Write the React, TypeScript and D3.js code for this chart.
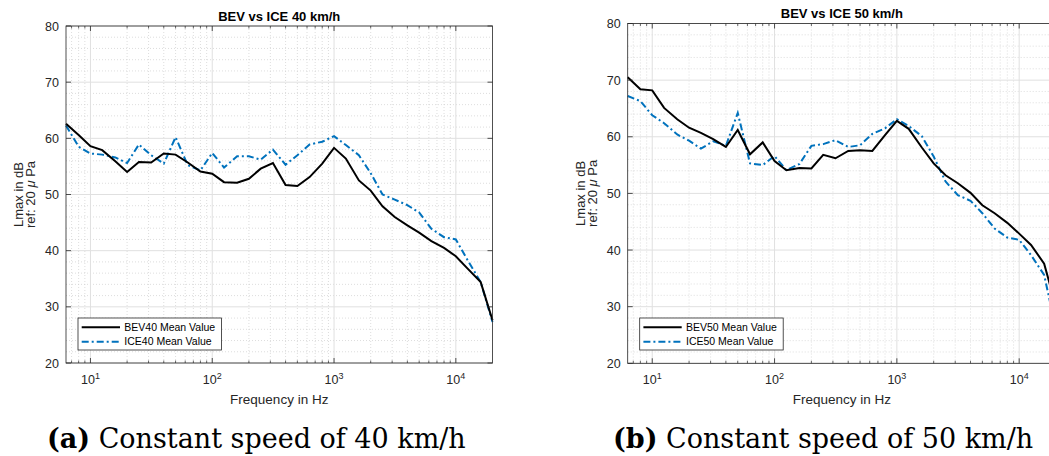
import React from "react";
import * as d3 from "d3";

const freqs = [6.3, 8, 10, 12.5, 16, 20, 25, 31.5, 40, 50, 63, 80, 100, 125, 160, 200, 250, 315, 400, 500, 630, 800, 1000, 1250, 1600, 2000, 2500, 3150, 4000, 5000, 6300, 8000, 10000, 12500, 16000, 20000];

const bev40 = [62.6, 60.6, 58.6, 57.9, 55.9, 54.0, 55.8, 55.7, 57.3, 57.1, 55.7, 54.1, 53.7, 52.2, 52.1, 52.8, 54.6, 55.6, 51.7, 51.5, 53.1, 55.5, 58.3, 56.4, 52.5, 50.7, 47.9, 46.0, 44.5, 43.2, 41.7, 40.5, 39.0, 36.8, 34.4, 27.6];
const ice40 = [62.3, 58.5, 57.3, 57.1, 56.6, 55.6, 58.9, 57.0, 55.5, 60.2, 55.2, 54.3, 57.4, 54.8, 56.8, 56.8, 56.2, 58.0, 55.3, 57.0, 58.9, 59.4, 60.4, 58.8, 57.0, 53.8, 50.0, 49.1, 48.1, 46.8, 43.9, 42.4, 42.0, 38.3, 34.4, 27.3];
const bev50 = [70.5, 68.4, 68.2, 65.1, 63.1, 61.6, 60.7, 59.6, 58.2, 61.2, 56.9, 59.0, 55.7, 54.1, 54.5, 54.4, 56.8, 56.2, 57.5, 57.6, 57.5, 60.3, 62.8, 61.4, 58.1, 55.3, 53.2, 51.8, 50.1, 47.9, 46.5, 44.8, 42.9, 40.9, 37.6, 30.0];
const ice50 = [67.2, 66.3, 63.8, 62.4, 60.4, 59.3, 57.9, 59.2, 58.4, 64.2, 55.3, 55.0, 56.6, 54.1, 55.2, 58.4, 58.7, 59.4, 58.2, 58.5, 60.5, 61.5, 63.1, 61.9, 60.1, 56.5, 52.1, 49.7, 48.7, 46.5, 43.8, 42.2, 41.8, 39.1, 35.6, 26.0];

const xMajorTicks = [10, 100, 1000, 10000];
const xTickExponents = ["1", "2", "3", "4"];
const yMajorTicks = [20, 30, 40, 50, 60, 70, 80];
const xDomain: [number, number] = [6.3, 20000];
const yDomain: [number, number] = [20, 80];

const BLUE = "#0072BD";
const AX = "#262626";
const SANS = "'Liberation Sans', Arial, sans-serif";
const SERIF = "'DejaVu Serif', serif";

type PanelProps = {
  x0: number; x1: number; y0: number; y1: number;
  title: string; bev: number[]; ice: number[];
  bevLabel: string; iceLabel: string;
};

function Panel({ x0, x1, y0, y1, title, bev, ice, bevLabel, iceLabel }: PanelProps) {
  const x = d3.scaleLog().domain(xDomain).range([x0, x1]);
  const y = d3.scaleLinear().domain(yDomain).range([y1, y0]);
  const minorX: number[] = [];
  for (let e = 0; e <= 4; e++) {
    for (let m = 2; m <= 9; m++) {
      const v = m * Math.pow(10, e);
      if (v > xDomain[0] && v < xDomain[1]) minorX.push(v);
    }
  }
  const minorY = d3.range(20, 81, 2).filter((v) => v % 10 !== 0);
  const line = d3.line<number>().x((_, i) => x(freqs[i])).y((d) => y(d));
  const cx = (x0 + x1) / 2;
  const cy = (y0 + y1) / 2;
  const lx = x0 + 12;
  const ly = 318;
  return (
    <g>
      {/* minor grid */}
      {minorX.map((v) => (
        <line key={"mx" + v} x1={x(v)} x2={x(v)} y1={y0} y2={y1} stroke="#cfcfcf" strokeWidth={0.7} strokeDasharray="1,2" />
      ))}
      {minorY.map((v) => (
        <line key={"my" + v} x1={x0} x2={x1} y1={y(v)} y2={y(v)} stroke="#cfcfcf" strokeWidth={0.7} strokeDasharray="1,2" />
      ))}
      {/* major grid */}
      {xMajorTicks.map((v) => (
        <line key={"gx" + v} x1={x(v)} x2={x(v)} y1={y0} y2={y1} stroke="#e0e0e0" strokeWidth={1} />
      ))}
      {yMajorTicks.map((v) => (
        <line key={"gy" + v} x1={x0} x2={x1} y1={y(v)} y2={y(v)} stroke="#e0e0e0" strokeWidth={1} />
      ))}
      {/* data */}
      <path d={line(ice) || ""} fill="none" stroke={BLUE} strokeWidth={2} strokeDasharray="7,3,2,3" />
      <path d={line(bev) || ""} fill="none" stroke="#000" strokeWidth={2} />
      {/* box */}
      <rect x={x0} y={y0} width={x1 - x0} height={y1 - y0} fill="none" stroke={AX} strokeWidth={0.8} />
      {/* ticks */}
      {xMajorTicks.map((v) => (
        <g key={"tx" + v}>
          <line x1={x(v)} x2={x(v)} y1={y1} y2={y1 - 5} stroke={AX} strokeWidth={0.8} />
          <line x1={x(v)} x2={x(v)} y1={y0} y2={y0 + 5} stroke={AX} strokeWidth={0.8} />
        </g>
      ))}
      {minorX.map((v) => (
        <g key={"tmx" + v}>
          <line x1={x(v)} x2={x(v)} y1={y1} y2={y1 - 2.5} stroke={AX} strokeWidth={0.7} />
          <line x1={x(v)} x2={x(v)} y1={y0} y2={y0 + 2.5} stroke={AX} strokeWidth={0.7} />
        </g>
      ))}
      {yMajorTicks.map((v) => (
        <g key={"ty" + v}>
          <line x1={x0} x2={x0 + 5} y1={y(v)} y2={y(v)} stroke={AX} strokeWidth={0.8} />
          <line x1={x1} x2={x1 - 5} y1={y(v)} y2={y(v)} stroke={AX} strokeWidth={0.8} />
          <text x={x0 - 7} y={y(v)} dy="0.36em" textAnchor="end" fontFamily={SANS} fontSize={12.5} fill={AX}>{v}</text>
        </g>
      ))}
      {xMajorTicks.map((v, i) => (
        <text key={"lx" + v} x={x(v)} y={384} textAnchor="middle" fontFamily={SANS} fontSize={12.5} fill={AX}>
          <tspan>10</tspan>
          <tspan dy={-5.5} fontSize={9}>{xTickExponents[i]}</tspan>
        </text>
      ))}
      {/* labels */}
      <text x={cx} y={404} textAnchor="middle" fontFamily={SANS} fontSize={13.5} fill={AX}>Frequency in Hz</text>
      <text transform={`translate(${x0 - 42.7},${cy}) rotate(-90)`} textAnchor="middle" fontFamily={SANS} fontSize={13} fill={AX}>Lmax in dB</text>
      <text transform={`translate(${x0 - 31},${cy}) rotate(-90)`} textAnchor="middle" fontFamily={SANS} fontSize={13} fill={AX}>
        ref: 20 <tspan fontStyle="italic">μ</tspan> Pa
      </text>
      <text x={cx} y={y0 - 5.5} textAnchor="middle" fontFamily={SANS} fontSize={13} fontWeight="bold" fill="#000">{title}</text>
      {/* legend */}
      <rect x={lx} y={ly} width={143.5} height={32} fill="#fff" stroke={AX} strokeWidth={0.8} />
      <line x1={lx + 3.7} x2={lx + 42} y1={ly + 9.3} y2={ly + 9.3} stroke="#000" strokeWidth={2} />
      <line x1={lx + 3.7} x2={lx + 42} y1={ly + 23.7} y2={ly + 23.7} stroke={BLUE} strokeWidth={2} strokeDasharray="7,3,2,3" />
      <text x={lx + 46.3} y={ly + 9.3} dy="0.36em" fontFamily={SANS} fontSize={10.5} fill="#000">{bevLabel}</text>
      <text x={lx + 46.3} y={ly + 23.7} dy="0.36em" fontFamily={SANS} fontSize={10.5} fill="#000">{iceLabel}</text>
    </g>
  );
}

export default function App() {
  React.useEffect(() => {
    document.body.style.margin = "0";
  }, []);
  return (
    <svg width={1049} height={456} style={{ display: "block", position: "absolute", left: 0, top: 0, background: "#fff" }}>
      <rect x={0} y={0} width={1049} height={456} fill="#fff" />
      <Panel x0={66} x1={492.5} y0={26} y1={363} title="BEV vs ICE 40 km/h" bev={bev40} ice={ice40} bevLabel="BEV40 Mean Value" iceLabel="ICE40 Mean Value" />
      <Panel x0={627.7} x1={1056} y0={23.5} y1={363.3} title="BEV vs ICE 50 km/h" bev={bev50} ice={ice50} bevLabel="BEV50 Mean Value" iceLabel="ICE50 Mean Value" />
      <text x={47} y={448} fontFamily={SERIF} fontSize={27} fill="#000">
        <tspan fontWeight="bold">(a)</tspan> Constant speed of 40 km/h
      </text>
      <text x={613} y={448} fontFamily={SERIF} fontSize={27} fill="#000">
        <tspan fontWeight="bold">(b)</tspan> Constant speed of 50 km/h
      </text>
    </svg>
  );
}
